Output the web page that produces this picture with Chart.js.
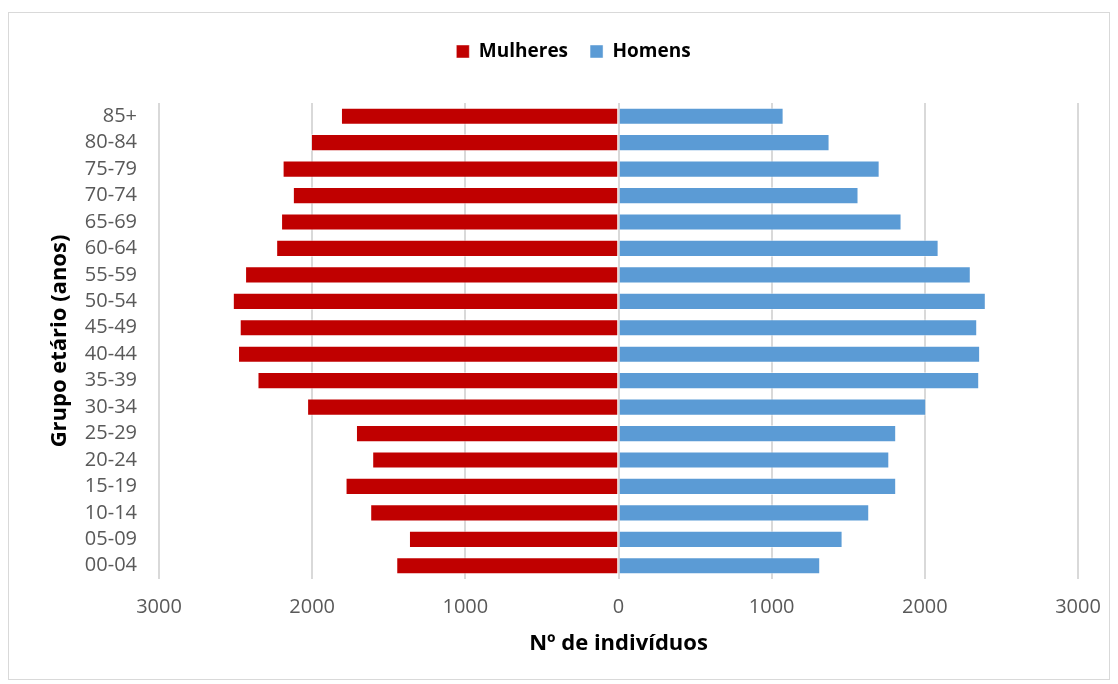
<!DOCTYPE html>
<html>
<head>
<meta charset="utf-8">
<script src="https://cdn.jsdelivr.net/npm/chart.js@4.4.1/dist/chart.umd.min.js"></script>
<style>
    body { margin: 0; background: #fff; }
    #frame {
        position: absolute; left: 8px; top: 12px;
        width: 1100px; height: 666px;
        border: 1px solid #d9d9d9;
    }
</style>
</head>
<body>
<div id="frame"><canvas id="pyramid" width="1100" height="666"></canvas></div>
<script>
// Age groups, top to bottom
const ageGroups = ['85+', '80-84', '75-79', '70-74', '65-69', '60-64', '55-59', '50-54', '45-49',
    '40-44', '35-39', '30-34', '25-29', '20-24', '15-19', '10-14', '05-09', '00-04'];
const women = [1812, 2008, 2193, 2126, 2203, 2235, 2438, 2518, 2473,
    2484, 2357, 2033, 1714, 1608, 1782, 1621, 1368, 1451];
const men = [1078, 1378, 1705, 1567, 1848, 2090, 2300, 2398, 2342,
    2361, 2355, 2009, 1813, 1768, 1813, 1637, 1463, 1317];
const xTicks = [-3000, -2000, -1000, 0, 1000, 2000, 3000];

const tickFont = { family: 'Open Sans', size: 20 };
const titleFont = { family: 'Open Sans', size: 22, weight: 'bold' };

// more room under the legend, and nudge it to the right like the original
const legendSpacing = {
    id: 'legendSpacing',
    beforeInit(chart) {
        const fit = chart.legend.fit;
        chart.legend.fit = function () {
            fit.call(this);
            this.height += 32;
        };
    },
    afterLayout(chart) {
        chart.legend.left += 11;
        chart.legend.right += 11;
    }
};

new Chart(document.getElementById('pyramid'), {
    type: 'bar',
    data: {
        labels: ageGroups,
        datasets: [{
            label: 'Mulheres',
            data: women.map(v => -v),
            backgroundColor: '#C00000',
            borderColor: 'rgba(255,255,255,0.45)',
            borderWidth: 1,
            barPercentage: 0.65,
            categoryPercentage: 1
        }, {
            label: 'Homens',
            data: men,
            backgroundColor: '#5B9BD5',
            borderColor: 'rgba(255,255,255,0.45)',
            borderWidth: 1,
            barPercentage: 0.65,
            categoryPercentage: 1
        }]
    },
    plugins: [legendSpacing],
    options: {
        indexAxis: 'y',
        responsive: false,
        animation: false,
        layout: { padding: { left: 38, right: 31, top: 7, bottom: 18 } },
        plugins: {
            legend: {
                position: 'top',
                labels: {
                    boxWidth: 13,
                    boxHeight: 13,
                    padding: 22,
                    color: '#000',
                    font: { family: 'Open Sans', size: 19, weight: 'bold' }
                }
            },
            tooltip: { enabled: false }
        },
        scales: {
            x: {
                stacked: true,
                min: -3000,
                max: 3000,
                afterBuildTicks: scale => {
                    scale.ticks = xTicks.map(v => ({ value: v }));
                },
                afterFit: scale => {
                    scale.height = 82;
                    scale.paddingLeft = 0;
                    scale.paddingRight = 0;
                },
                grid: { color: '#d9d9d9', lineWidth: 2, drawTicks: false },
                border: { display: false },
                ticks: {
                    color: '#595959',
                    font: tickFont,
                    padding: 16,
                    maxRotation: 0,
                    callback: v => Math.abs(v)
                },
                title: {
                    display: true,
                    text: 'Nº de indivíduos',
                    color: '#000',
                    font: titleFont,
                    padding: { top: 6 }
                }
            },
            y: {
                stacked: true,
                afterFit: scale => { scale.width = 112; },
                grid: { display: false },
                border: { display: false },
                ticks: {
                    color: '#595959',
                    font: tickFont,
                    padding: 14,
                    autoSkip: false
                },
                title: {
                    display: true,
                    text: 'Grupo etário (anos)',
                    color: '#000',
                    font: titleFont,
                    padding: 0
                }
            }
        }
    }
});
</script>
</body>
</html>
